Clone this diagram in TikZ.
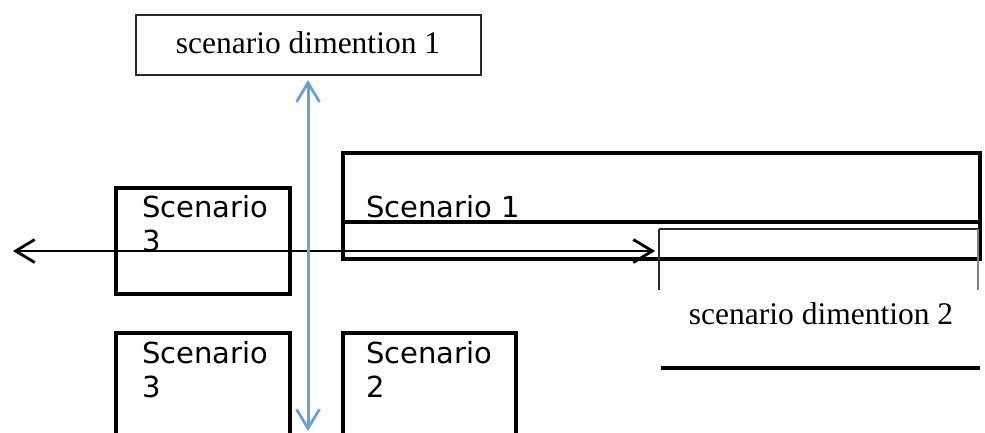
\documentclass[tikz,border=0pt]{standalone}
\usepackage{fontspec}
\setmainfont{Liberation Serif}
\newfontfamily\boxfont{DejaVu Sans}
\usetikzlibrary{arrows.meta}
\definecolor{axisblue}{HTML}{6B9FD2}
\definecolor{framegray}{HTML}{2A2A2A}
\tikzset{
  scenbox/.style={draw=black, line width=3.2pt},
  scentext/.style={anchor=north west, inner sep=0pt, align=left,
    font=\boxfont\fontsize{29}{34}\selectfont},
  dimtext/.style={inner sep=0pt, font=\fontsize{31.5}{36}\selectfont},
  openbarb/.tip={Straight Barb[length=19pt, width=23pt, line width=2.8pt]},
}
\begin{document}
\begin{tikzpicture}[x=1pt, y=-1pt]
  \useasboundingbox (0,0) rectangle (985,433);
  \clip (0,0) rectangle (985,433);

  % first dimension label
  \node[draw=framegray, line width=2.2pt, minimum width=345pt, minimum height=60pt,
        inner sep=0pt] (dimone) at (308.5,45) {};
  \node[dimtext, anchor=base] (dimonetext) at (308,54) {scenario dimention 1};

  % scenario boxes
  \draw[scenbox] (116,188) rectangle (290,294);
  \node[scentext] (sthreeA) at (142,195) {Scenario\\3};

  \draw[scenbox] (343,153) rectangle (980,259);
  \draw[scenbox] (343,222) -- (980,222);
  \node[scentext] (sone) at (366,195) {Scenario 1};

  \draw[scenbox] (116,445) -- (116,333) -- (290,333) -- (290,445);
  \node[scentext] (sthreeB) at (142,341) {Scenario\\3};

  \draw[scenbox] (343,445) -- (343,333) -- (516,333) -- (516,445);
  \node[scentext] (stwo) at (366,341) {Scenario\\2};

  % second dimension label and its frame
  \coordinate (dtwoNW) at (659,229);
  \coordinate (dtwoNE) at (978,229);
  \draw[framegray, line width=2.2pt] (dtwoNW) -- (dtwoNE);
  \draw[framegray, line width=2.8pt] (dtwoNW) -- ++(0,61);
  \draw[gray, line width=1.4pt] (dtwoNE) -- ++(0,61);
  \draw[black, line width=3.2pt] (661,368) -- (980,368);
  \node[dimtext, anchor=base] (dimtwotext) at (821,324) {scenario dimention 2};

  % axes
  \coordinate (leftend) at (13,251);
  \coordinate (rightend) at (655,251);
  \draw[black, line width=2.8pt, openbarb-openbarb] (leftend) -- (rightend);

  \coordinate (bottomend) at (308,431);
  \draw[axisblue, line width=3pt, openbarb-openbarb, shorten <=4pt]
    (dimone.south -| bottomend) -- (bottomend);
\end{tikzpicture}
\end{document}
